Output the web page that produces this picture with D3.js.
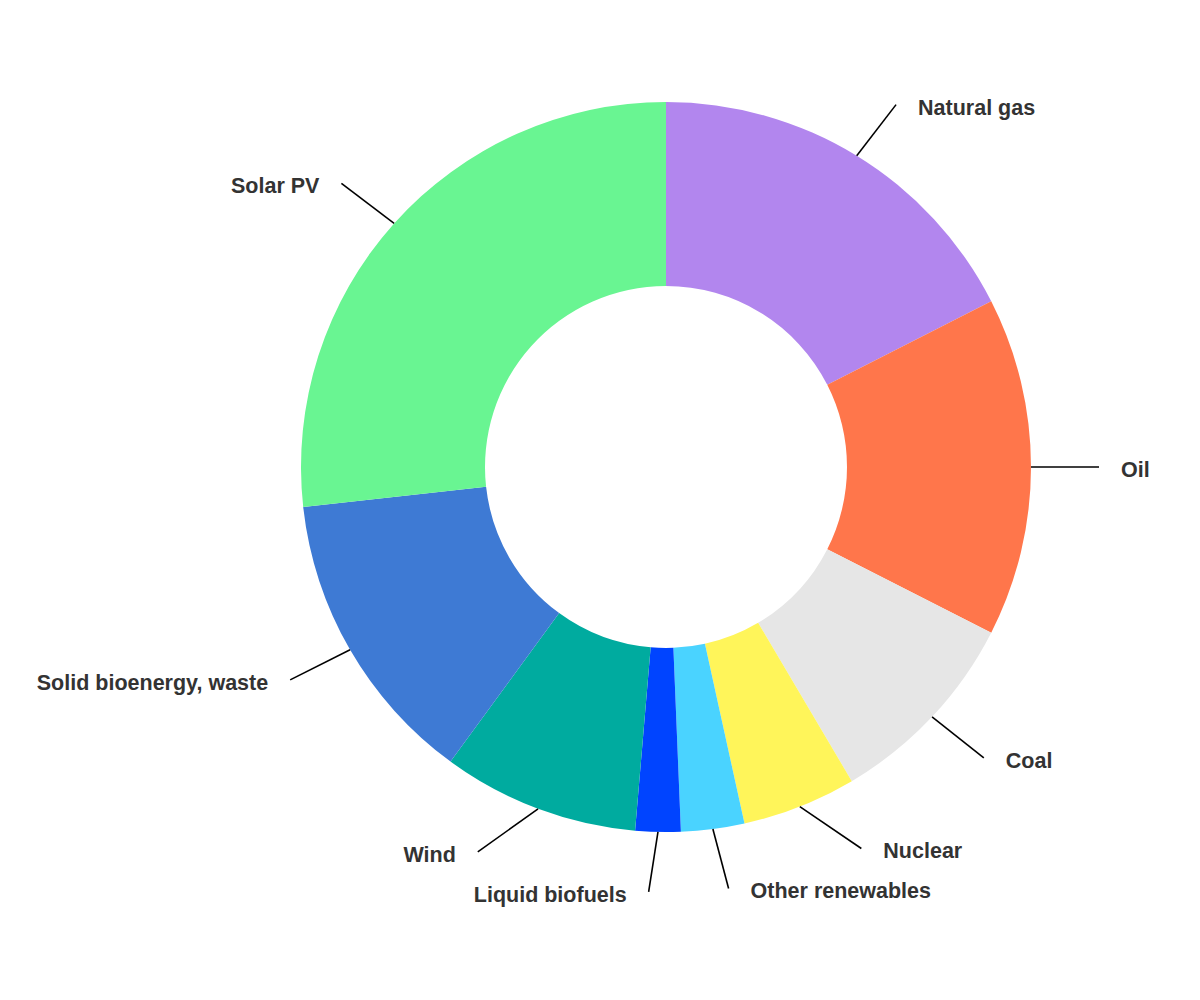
<!DOCTYPE html>
<html>
<head>
<meta charset="utf-8">
<script src="https://cdn.jsdelivr.net/npm/d3@7"></script>
<style>
  body { margin: 0; background: #fff; }
  .label { font-family: "Liberation Sans", Arial, sans-serif; font-weight: bold; font-size: 21.5px; fill: #333; }
</style>
</head>
<body>
<div id="vis"></div>
<script>
// Frame
const FRAME_WIDTH = 1200;
const FRAME_HEIGHT = 1000;
const CENTER = {x: 666, y: 467};
const OUTER_R = 365;
const INNER_R = 181;
const LINE_LEN = 60;     // radial part of the leader line
const LINE_LEN2 = 8;     // extra horizontal push of the line end
const LABEL_GAP = 22;    // space between line end and text
const LABEL_SPACING = 40;
const LABEL_MAX_Y = 892;

// Data (share of total)
const categories = ["Natural gas", "Oil", "Coal", "Nuclear", "Other renewables",
                    "Liquid biofuels", "Wind", "Solid bioenergy, waste", "Solar PV"];
const values = [17.5, 15.0, 9.0, 5.05, 2.8, 2.0, 8.7, 13.2, 26.75];
const colors = ["#b286ee", "#ff764b", "#e6e6e6", "#fff55a", "#4ad3ff",
                "#0044ff", "#00ab9f", "#3e7ad4", "#69f592"];

const data = categories.map((c, i) => ({name: c, value: values[i], color: colors[i]}));

const FRAME = d3.select("#vis")
                .append("svg")
                  .attr("width", FRAME_WIDTH)
                  .attr("height", FRAME_HEIGHT);

const G = FRAME.append("g")
               .attr("transform", "translate(" + CENTER.x + "," + CENTER.y + ")");

const PIE = d3.pie().sort(null).value((d) => d.value);
const ARC = d3.arc().innerRadius(INNER_R).outerRadius(OUTER_R);
const arcs = PIE(data);

// slices
G.selectAll(".slice")
  .data(arcs)
  .enter()
  .append("path")
    .attr("class", "slice")
    .attr("d", ARC)
    .attr("fill", (d) => d.data.color);

// label layout: radial end point, then push labels apart on each side
const rA = OUTER_R + LINE_LEN;
const items = arcs.map((d) => {
  const mid = (d.startAngle + d.endAngle) / 2;
  const sx = Math.sin(mid), sy = -Math.cos(mid);
  return {
    d: d,
    x0: OUTER_R * sx, y0: OUTER_R * sy,
    x: rA * sx, y: rA * sy,
    dir: sx >= 0 ? 1 : -1
  };
});

[1, -1].forEach((dir) => {
  const side = items.filter((it) => it.dir === dir).sort((a, b) => b.y - a.y);
  let moved = false;
  let prev = null;
  side.forEach((it) => {
    let ny = it.y;
    if (ny > LABEL_MAX_Y - CENTER.y) ny = LABEL_MAX_Y - CENTER.y;
    if (prev !== null && ny > prev - LABEL_SPACING) ny = prev - LABEL_SPACING;
    if (ny !== it.y) moved = true;
    it.y = ny;
    prev = ny;
  });
  if (!moved) return;
  // align labels on an ellipse (bottom and top halves separately)
  [true, false].forEach((bottom) => {
    const semi = side.filter((it) => (it.y > 0) === bottom);
    if (semi.length === 0) return;
    let far = semi[0];
    semi.forEach((it) => { if (Math.abs(it.y) > Math.abs(far.y)) far = it; });
    const dx = Math.abs(far.x);
    const rB = dx < rA ? Math.sqrt(far.y * far.y / (1 - dx * dx / (rA * rA))) : rA;
    semi.forEach((it) => {
      const k = 1 - (it.y * it.y) / (rB * rB);
      it.x = dir * Math.sqrt(Math.max(0, k) * rA * rA);
    });
  });
});

items.forEach((it) => { it.x += it.dir * LINE_LEN2; });

// leader lines
G.selectAll(".leader")
  .data(items)
  .enter()
  .append("line")
    .attr("class", "leader")
    .attr("x1", (it) => it.x0)
    .attr("y1", (it) => it.y0)
    .attr("x2", (it) => it.x)
    .attr("y2", (it) => it.y)
    .attr("stroke", "#000")
    .attr("stroke-width", 1.6);

// labels
G.selectAll(".label")
  .data(items)
  .enter()
  .append("text")
    .attr("class", "label")
    .attr("x", (it) => it.x + it.dir * LABEL_GAP)
    .attr("y", (it) => it.y + 10)
    .attr("text-anchor", (it) => it.dir > 0 ? "start" : "end")
    .text((it) => it.d.data.name);
</script>
</body>
</html>
